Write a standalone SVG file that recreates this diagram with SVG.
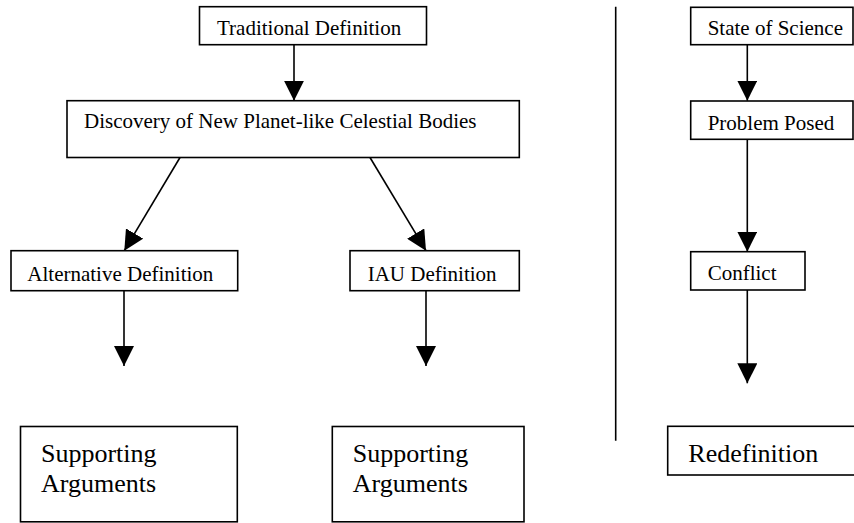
<svg xmlns="http://www.w3.org/2000/svg" width="854" height="523" viewBox="0 0 854 523">
<style>
.box{fill:#fff;stroke:#000;stroke-width:1.6}
.t{font-family:"Liberation Serif","Times New Roman",serif;font-size:21px;fill:#000}
.tl{font-family:"Liberation Serif","Times New Roman",serif;font-size:26px;fill:#000}
.c{stroke:#000;stroke-width:1.6;fill:none}
</style>
<defs>
<marker id="ah" markerUnits="userSpaceOnUse" markerWidth="20" markerHeight="20" refX="20" refY="10" orient="auto">
<path d="M0,0 L20,10 L0,20 z" fill="#000"/>
</marker>
</defs>
<rect width="854" height="523" fill="#fff"/>
<line x1="615.7" y1="6.7" x2="615.7" y2="440.7" stroke="#000" stroke-width="1.6"/>
<g id="connectors">
<line class="c" x1="294" y1="44.7" x2="294" y2="100.7" marker-end="url(#ah)"/>
<line class="c" x1="180" y1="157.5" x2="124.3" y2="250.7" marker-end="url(#ah)"/>
<line class="c" x1="370" y1="157.5" x2="426" y2="250.7" marker-end="url(#ah)"/>
<line class="c" x1="124" y1="290.7" x2="124" y2="366" marker-end="url(#ah)"/>
<line class="c" x1="426" y1="290.7" x2="426" y2="366" marker-end="url(#ah)"/>
<line class="c" x1="747.3" y1="44.7" x2="747.3" y2="100.7" marker-end="url(#ah)"/>
<line class="c" x1="747.3" y1="139.3" x2="747.3" y2="251.7" marker-end="url(#ah)"/>
<line class="c" x1="747.3" y1="290" x2="747.3" y2="383.3" marker-end="url(#ah)"/>
</g>
<g id="traditional"><rect class="box" x="199.5" y="6.7" width="227" height="38"/><text class="t" x="217" y="35">Traditional Definition</text></g>
<g id="discovery"><rect class="box" x="67" y="100.7" width="452.3" height="56.8"/><text class="t" x="84" y="128">Discovery of New Planet-like Celestial Bodies</text></g>
<g id="alternative"><rect class="box" x="11" y="250.7" width="226.7" height="40"/><text class="t" x="27.3" y="280.7">Alternative Definition</text></g>
<g id="iau"><rect class="box" x="350" y="250.7" width="169.3" height="40"/><text class="t" x="367.7" y="280.7">IAU Definition</text></g>
<g id="support-left"><rect class="box" x="20.5" y="426.5" width="216.8" height="95.3"/><text class="tl" x="41" y="461.7">Supporting</text><text class="tl" x="41" y="492.3">Arguments</text></g>
<g id="support-right"><rect class="box" x="332.3" y="426.5" width="191.7" height="95.3"/><text class="tl" x="352.7" y="461.7">Supporting</text><text class="tl" x="352.7" y="492.3">Arguments</text></g>
<g id="state"><rect class="box" x="690.7" y="7.3" width="162.3" height="37.4"/><text class="t" x="707.7" y="35">State of Science</text></g>
<g id="problem"><rect class="box" x="690.7" y="101" width="162.3" height="38.3"/><text class="t" x="707.7" y="130">Problem Posed</text></g>
<g id="conflict"><rect class="box" x="690.7" y="251.7" width="114.3" height="38.3"/><text class="t" x="707.7" y="280">Conflict</text></g>
<g id="redefinition"><rect class="box" x="667.7" y="426.3" width="190" height="48.7"/><text class="tl" x="688.3" y="461.7">Redefinition</text></g>
</svg>
